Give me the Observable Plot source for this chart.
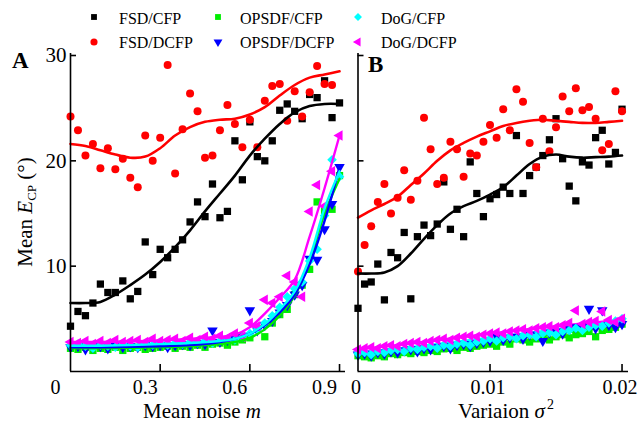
<!DOCTYPE html>
<html><head><meta charset="utf-8">
<script src="https://cdn.jsdelivr.net/npm/d3@7"></script>
<script src="https://cdn.jsdelivr.net/npm/@observablehq/plot@0.6"></script>
<style>
body{margin:0;background:#fff;}
#wrap{position:relative;width:642px;height:425px;overflow:hidden;background:#fff;}
#wrap svg{position:absolute;top:0;}
</style></head><body><div id="wrap"></div>
<script>
// ---------- Panel A: mean noise m ----------
const xA = [0,0.025,0.05,0.075,0.1,0.125,0.15,0.175,0.2,0.225,0.25,0.275,0.3,0.325,0.35,0.375,0.4,0.425,0.45,0.475,0.5,0.525,0.55,0.575,0.6,0.625,0.65,0.675,0.7,0.725,0.75,0.775,0.8,0.825,0.85,0.875,0.9];
const fsdCfpA   = [4.3,5.7,5.3,6.5,8.3,7.5,7.5,8.6,6.9,7.6,12.3,9.2,11.6,10.8,11.6,12.5,14.2,16.1,14.7,17.8,14.6,15.2,21.9,18.2,23.7,20.4,20.0,21.9,24.8,25.4,24.7,24.0,26.3,26.0,27.6,24.1,25.5];
const fsdDcfpA  = [24.2,22.9,20.5,21.6,19.3,21.2,19.2,20.2,18.4,17.5,22.4,20.0,22.2,29.1,18.8,23.0,26.4,24.7,20.3,20.5,22.9,25.3,23.5,21.3,23.9,21.3,25.7,27.1,27.3,23.8,26.6,24.2,26.5,29.0,27.3,27.2,null];
const opsCfpA   = [2.2,2.1,2.3,2.0,2.2,2.1,2.3,2.0,2.2,2.3,2.1,2.2,2.3,2.4,2.2,2.4,2.3,2.5,2.3,2.6,2.7,2.5,2.8,3.0,3.2,4.05,3.3,4.6,5.4,5.9,7.3,8.2,9.7,16.1,15.3,15.4,18.6];
const opsDcfpA  = [2.3,2.4,2.1,2.3,2.4,2.2,2.5,2.3,2.4,2.3,2.5,2.4,2.5,2.3,2.5,2.6,2.5,2.7,2.6,3.9,2.8,3.0,3.2,3.4,5.8,3.9,4.4,4.8,5.6,6.3,7.3,8.2,10.7,10.6,13.5,15.9,19.4];
const dogCfpA   = [2.5,2.6,2.4,2.2,2.5,2.4,2.3,2.6,2.4,2.3,2.6,2.5,2.7,2.5,2.7,2.6,2.8,2.7,2.9,2.7,2.9,3.1,3.0,3.3,3.6,4.0,4.6,5.3,6.1,7.1,7.85,8.5,10.5,11.6,14.8,20.1,18.5];
const dogDcfpA  = [2.8,2.7,2.9,2.6,2.9,2.7,3.0,2.8,2.9,3.0,2.8,3.1,2.9,3.0,3.1,2.9,3.2,3.0,3.3,3.1,3.4,3.2,3.6,3.3,4.6,4.3,6.8,6.5,7.1,9.1,8.5,7.1,15.2,17.7,15.7,19.0,22.4];
// fitted curves, panel A
const fitXA1 = [0,0.05,0.1,0.15,0.2,0.25,0.3,0.35,0.4,0.45,0.5,0.55,0.6,0.65,0.7,0.75,0.8,0.85,0.9];
const fsdCfpFitA  = [6.5,6.5,6.6,7.3,8.2,9.2,10.4,11.8,13.4,15.2,16.9,18.6,20.5,22.1,23.5,24.6,25.2,25.4,25.4];
const fsdDcfpFitA = [21.6,21.4,21.0,20.6,20.3,20.4,21.2,22.4,23.2,23.7,23.9,24.0,24.4,25.1,26.2,27.2,27.9,28.2,28.5];
const fitXA2 = [0,0.1,0.2,0.3,0.4,0.5,0.55,0.6,0.65,0.7,0.75,0.8,0.85,0.9];
const opsCfpFitA  = [2.2,2.2,2.25,2.3,2.4,2.6,2.8,3.2,4.0,5.3,7.2,10.5,15.0,18.3];
const opsDcfpFitA = [2.3,2.3,2.35,2.4,2.5,2.8,3.1,3.6,4.4,5.6,7.3,10.2,14.3,19.4];
const dogCfpFitA  = [2.45,2.45,2.5,2.6,2.7,2.9,3.1,3.6,4.5,5.9,7.6,10.8,15.5,19.0];
const dogDcfpFitA = [2.8,2.8,2.85,2.95,3.1,3.3,3.5,4.2,5.5,7.0,8.7,12.8,17.4,22.4];
const xTicksA = [0,0.3,0.6,0.9];

// ---------- Panel B: variation sigma^2 ----------
const xB = [0,0.0005,0.001,0.0015,0.002,0.0025,0.003,0.0035,0.004,0.0045,0.005,0.0055,0.006,0.0065,0.007,0.0075,0.008,0.0085,0.009,0.0095,0.01,0.0105,0.011,0.0115,0.012,0.0125,0.013,0.0135,0.014,0.0145,0.015,0.0155,0.016,0.0165,0.017,0.0175,0.018,0.0185,0.019,0.0195,0.02];
const fsdCfpB  = [6.0,8.3,8.5,10.2,6.8,11.3,10.8,13.2,6.9,12.8,13.9,12.9,14.0,18.0,13.5,15.4,12.8,19.9,16.9,14.7,16.4,16.8,17.5,16.9,22.4,16.9,18.6,19.4,20.5,22.0,24.0,20.2,17.6,16.2,19.9,19.6,22.2,22.9,19.7,20.8,24.9];
const fsdDcfpB = [9.5,12.0,13.8,16.1,17.8,15.0,16.5,19.1,16.3,18.1,24.1,21.1,17.8,18.4,21.8,21.1,18.5,20.7,20.5,21.8,23.4,22.2,24.9,22.9,26.8,25.6,21.7,19.4,24.0,20.9,23.2,26.1,24.7,26.9,24.8,25.1,24.0,21.0,21.6,26.6,24.7];
const opsCfpB  = [1.5,1.4,1.3,1.5,1.4,1.7,1.6,1.8,1.7,1.9,1.8,2.0,1.9,2.15,2.2,2.0,2.3,2.2,2.4,2.5,2.6,2.4,2.8,2.6,3.1,3.0,2.8,3.1,3.2,3.0,3.3,3.5,3.2,3.5,3.6,3.8,3.3,3.9,4.0,4.2,4.5];
const opsDcfpB = [1.6,1.7,1.5,1.8,1.7,1.9,1.8,2.0,2.1,1.9,2.2,2.1,2.3,2.4,2.2,2.5,2.6,2.4,2.7,2.8,2.9,3.4,3.0,3.2,3.3,3.1,3.5,3.4,2.9,3.7,3.8,3.6,4.0,4.2,4.3,5.95,4.1,5.8,4.4,4.2,4.5];
const dogCfpB  = [1.7,1.8,1.6,1.9,1.8,2.0,2.1,1.9,2.2,2.1,2.3,2.4,2.2,2.5,2.4,2.6,2.7,2.5,2.8,2.9,3.1,2.9,3.2,3.3,3.1,3.4,3.5,3.3,3.6,3.7,3.5,3.8,3.9,4.1,3.9,4.2,4.4,4.3,4.6,4.8,5.0];
const dogDcfpB = [2.1,2.2,2.3,2.2,2.4,2.5,2.4,2.6,2.7,2.8,2.7,2.9,3.0,3.1,3.0,3.2,3.3,3.4,3.3,3.5,3.6,3.7,3.6,3.8,3.9,4.0,3.9,4.1,4.2,4.3,4.2,4.4,4.6,5.8,4.5,4.7,4.8,5.7,4.9,4.7,5.0];
// fitted curves, panel B
const fitXB1 = [0,0.001,0.002,0.003,0.004,0.005,0.006,0.007,0.008,0.009,0.01,0.011,0.012,0.013,0.014,0.015,0.016,0.017,0.018,0.019,0.02];
const fsdCfpFitB  = [9.3,9.3,9.4,10.0,11.2,12.6,13.9,15.0,15.7,16.2,16.8,17.5,18.6,19.7,20.4,20.6,20.4,20.3,20.35,20.4,20.5];
const fsdDcfpFitB = [14.6,15.3,15.9,16.6,17.7,18.8,20.0,21.0,21.7,22.3,22.8,23.3,23.6,23.8,23.9,23.8,23.7,23.6,23.6,23.7,23.8];
const fitXB2 = [0,0.005,0.01,0.015,0.02];
const opsCfpFitB  = [1.5,2.2,2.9,3.6,4.4];
const opsDcfpFitB = [1.6,2.3,3.0,3.8,4.5];
const dogCfpFitB  = [1.75,2.45,3.2,4.0,4.8];
const dogDcfpFitB = [2.1,2.8,3.6,4.3,4.9];
const xTicksB = [0,0.01,0.02];

const yTicks = [10,20,30];
const seriesNames = ["FSD/CFP","FSD/DCFP","OPSDF/CFP","OPSDF/DCFP","DoG/CFP","DoG/DCFP"];
const seriesColors = ["#000000","#ff0000","#00ee00","#0000ff","#00ffff","#ff00ff"];

// ---------- drawing ----------
const serif = '"Liberation Serif","Times New Roman",serif';
const recs = (xs, ys) => xs.map((x, i) => ({x, y: ys[i]})).filter(d => d.y != null);
const style = {
  square:   {symbol: "square", r: 4.1},
  circle:   {symbol: "circle", r: 4},
  down:     {symbol: "triangle", r: 3.9, rotate: 180},
  diamond:  {symbol: "diamond2", r: 4.3},
  left:     {symbol: "triangle", r: 3.9, rotate: -90}
};
function panelMarks(xs, pts, fitsBig, fxBig, fitsSmall, fxSmall, smallLinesOnTop) {
  const [k, r, g, b, c, m] = pts;
  const bigDots = [
    Plot.dot(recs(xs, k), {x: "x", y: "y", fill: seriesColors[0], ...style.square}),
    Plot.dot(recs(xs, r), {x: "x", y: "y", fill: seriesColors[1], ...style.circle})
  ];
  const smallDots = [
    Plot.dot(recs(xs, g), {x: "x", y: "y", fill: seriesColors[2], ...style.square}),
    Plot.dot(recs(xs, b), {x: "x", y: "y", fill: seriesColors[3], ...style.down}),
    Plot.dot(recs(xs, c), {x: "x", y: "y", fill: seriesColors[4], ...style.diamond}),
    Plot.dot(recs(xs, m), {x: "x", y: "y", fill: seriesColors[5], ...style.left})
  ];
  const smallLines = fitsSmall.map((f, i) =>
    Plot.line(recs(fxSmall, f), {x: "x", y: "y", stroke: seriesColors[i + 2], strokeWidth: 2.4, curve: "catmull-rom"}));
  const bigLines = fitsBig.map((f, i) =>
    Plot.line(recs(fxBig, f), {x: "x", y: "y", stroke: seriesColors[i], strokeWidth: 2.6, curve: "catmull-rom"}));
  return smallLinesOnTop
    ? [...bigDots, ...smallDots, ...smallLines, ...bigLines]
    : [...bigDots, ...smallLines, ...smallDots, ...bigLines];
}
const svgStyle = {background: "none", fontFamily: serif, fontSize: "20px", overflow: "visible", color: "black"};

const plotA = Plot.plot({
  width: 352, height: 425, marginLeft: 70, marginRight: 7, marginTop: 55, marginBottom: 54,
  x: {domain: [0, 0.92], label: null}, y: {domain: [0, 30], label: null},
  style: svgStyle,
  marks: [
    ...panelMarks(xA, [fsdCfpA, fsdDcfpA, opsCfpA, opsDcfpA, dogCfpA, dogDcfpA],
      [fsdCfpFitA, fsdDcfpFitA], fitXA1, [opsCfpFitA, opsDcfpFitA, dogCfpFitA, dogDcfpFitA], fitXA2, true),
    Plot.ruleX([0], {strokeWidth: 1.6, y1: 0, y2: 30.2}),
    Plot.ruleY([0], {strokeWidth: 1.6}),
    Plot.axisY({ticks: yTicks, tickSize: 6, dx: 6, tickFormat: () => "", strokeWidth: 1.6, label: null}),
    Plot.axisY({ticks: yTicks, tickSize: 0, tickPadding: 4, fontSize: 21, label: null}),
    Plot.axisX({ticks: xTicksA.slice(1), tickSize: 7, dy: -7, tickFormat: () => "", strokeWidth: 1.6, label: null}),
    Plot.axisX({ticks: xTicksA, tickSize: 0, tickPadding: 8, dx: -15, tickFormat: d => String(d), label: null})
  ]
});
plotA.style.left = "0px";

const plotB = Plot.plot({
  width: 290, height: 425, marginLeft: 5.5, marginRight: 14, marginTop: 55, marginBottom: 54,
  x: {domain: [0, 0.02049], label: null}, y: {domain: [0, 30], label: null},
  style: svgStyle,
  marks: [
    ...panelMarks(xB, [fsdCfpB, fsdDcfpB, opsCfpB, opsDcfpB, dogCfpB, dogDcfpB],
      [fsdCfpFitB, fsdDcfpFitB], fitXB1, [opsCfpFitB, opsDcfpFitB, dogCfpFitB, dogDcfpFitB], fitXB2, false),
    Plot.ruleX([0], {strokeWidth: 1.6, y1: 0, y2: 30.2}),
    Plot.ruleY([0], {strokeWidth: 1.6}),
    Plot.axisY({ticks: yTicks, tickSize: 6, dx: 6, tickFormat: () => "", strokeWidth: 1.6, label: null}),
    Plot.axisX({ticks: xTicksB.slice(1), tickSize: 7, dy: -7, tickFormat: () => "", strokeWidth: 1.6, label: null}),
    Plot.axisX({ticks: xTicksB, tickSize: 0, tickPadding: 8, dx: -2, tickFormat: d => String(d), label: null})
  ]
});
plotB.style.left = "352px";

const wrap = document.getElementById("wrap");
wrap.appendChild(plotA);
wrap.appendChild(plotB);

// ---------- overlay: legend, panel letters, axis titles ----------
const ov = d3.select(wrap).append("svg")
  .attr("width", 642).attr("height", 425)
  .style("left", "0px").style("pointer-events", "none")
  .style("font-family", serif);

const legSym = [
  {type: d3.symbolSquare, size: 34, rot: 0},
  {type: d3.symbolCircle, size: 40, rot: 0},
  {type: d3.symbolSquare, size: 34, rot: 0},
  {type: d3.symbolTriangle, size: 34, rot: 180},
  {type: d3.symbolDiamond2, size: 40, rot: 0},
  {type: d3.symbolTriangle, size: 34, rot: -90}
];
const legMarkX = [94, 218, 358], legTextX = [119, 240, 381], legMarkY = [17, 42], legTextY = [23.5, 48];
seriesNames.forEach((name, i) => {
  const col = Math.floor(i / 2), row = i % 2;
  ov.append("path")
    .attr("d", d3.symbol(legSym[i].type, legSym[i].size)())
    .attr("transform", `translate(${legMarkX[col]},${legMarkY[row]}) rotate(${legSym[i].rot})`)
    .attr("fill", seriesColors[i]);
  ov.append("text").attr("x", legTextX[col]).attr("y", legTextY[row])
    .attr("font-size", 16).text(name);
});

ov.append("text").attr("x", 12).attr("y", 68).attr("font-size", 23).attr("font-weight", "bold").text("A");
ov.append("text").attr("x", 368).attr("y", 72).attr("font-size", 23).attr("font-weight", "bold").text("B");

const xlA = ov.append("text").attr("x", 202).attr("y", 418).attr("font-size", 21).attr("text-anchor", "middle");
xlA.append("tspan").text("Mean noise ");
xlA.append("tspan").attr("font-style", "italic").text("m");

const xlB = ov.append("text").attr("x", 506).attr("y", 418).attr("font-size", 21).attr("text-anchor", "middle");
xlB.append("tspan").text("Variaion ");
xlB.append("tspan").attr("font-style", "italic").text("σ");
xlB.append("tspan").attr("font-size", 14).attr("dy", -9).attr("dx", 2).text("2");

const yl = ov.append("text").attr("transform", "translate(32,212) rotate(-90)")
  .attr("font-size", 21).attr("text-anchor", "middle");
yl.append("tspan").text("Mean ");
yl.append("tspan").attr("font-style", "italic").text("E");
yl.append("tspan").attr("font-size", 13).attr("dy", 4).text("CP");
yl.append("tspan").attr("dy", -4).text(" (°)");
</script>
</body></html>
